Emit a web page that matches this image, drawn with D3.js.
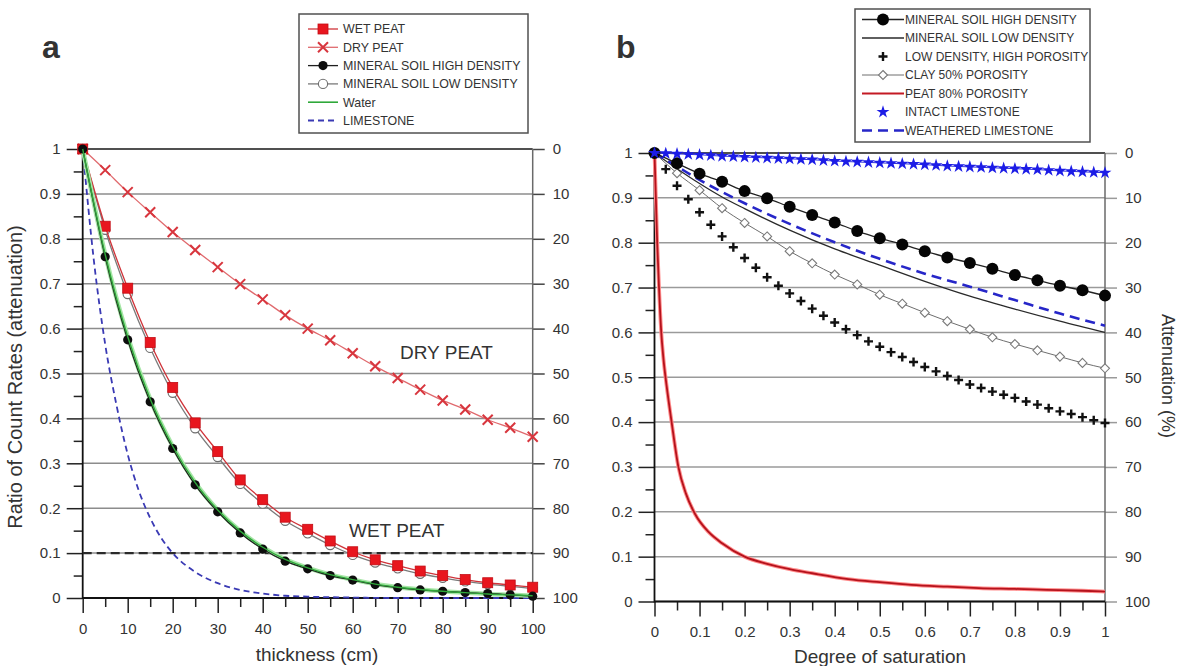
<!DOCTYPE html>
<html>
<head>
<meta charset="utf-8">
<script src="https://cdn.jsdelivr.net/npm/d3@7"></script>
<style>
  body { margin: 0; background: #fff; }
  svg { display: block; }
  text { font-family: "Liberation Sans", Arial, sans-serif; fill: #333; }
</style>
</head>
<body>
<svg id="chart" width="1182" height="666"></svg>
<script>
// ---------- Panel a: ratio of count rates vs thickness (cm) ----------
const thicknessCm  = [0,5,10,15,20,25,30,35,40,45,50,55,60,65,70,75,80,85,90,95,100];
const wetPeat      = [1,0.828,0.69,0.569,0.469,0.39,0.326,0.263,0.219,0.18,0.153,0.127,0.103,0.085,0.072,0.06,0.05,0.041,0.034,0.029,0.024];
const dryPeat      = [1,0.953,0.904,0.859,0.815,0.775,0.737,0.699,0.665,0.63,0.6,0.574,0.545,0.516,0.49,0.464,0.44,0.42,0.397,0.379,0.359];
const mineralHighA = [1,0.76,0.575,0.437,0.333,0.252,0.192,0.145,0.109,0.082,0.065,0.05,0.04,0.03,0.023,0.018,0.015,0.012,0.01,0.007,0.004];
const mineralLowA  = [1,0.82,0.677,0.557,0.457,0.378,0.314,0.254,0.21,0.172,0.144,0.118,0.096,0.079,0.066,0.054,0.045,0.037,0.031,0.026,0.021];
const waterA       = [1,0.765,0.582,0.443,0.338,0.257,0.196,0.149,0.113,0.086,0.067,0.052,0.041,0.031,0.024,0.019,0.015,0.012,0.009,0.007,0.005];
const limestoneCm  = [0,2.5,5,7.5,10,12.5,15,17.5,20,25,30,35,40,45,50,60,70,80,90,100];
const limestoneA   = [1,0.75,0.565,0.43,0.32,0.238,0.178,0.133,0.1,0.058,0.033,0.018,0.01,0.005,0.003,0.001,0,0,0,0];
const detectionLimit = 0.1;

// ---------- Panel b: ratio vs degree of saturation ----------
const satStep     = [0,0.05,0.1,0.15,0.2,0.25,0.3,0.35,0.4,0.45,0.5,0.55,0.6,0.65,0.7,0.75,0.8,0.85,0.9,0.95,1];
const mineralHighB = [1,0.977,0.954,0.936,0.915,0.899,0.88,0.862,0.845,0.826,0.81,0.796,0.781,0.767,0.755,0.742,0.728,0.716,0.704,0.694,0.682];
const clayB        = [1,0.955,0.917,0.877,0.844,0.814,0.781,0.754,0.729,0.707,0.684,0.664,0.644,0.625,0.607,0.589,0.574,0.56,0.546,0.532,0.52];
const satCoarse    = [0,0.05,0.1,0.15,0.2,0.3,0.4,0.5,0.6,0.7,0.8,0.9,1];
const mineralLowB  = [1,0.965,0.932,0.902,0.876,0.828,0.786,0.75,0.714,0.681,0.652,0.625,0.6];
const weatheredB   = [1,0.97,0.94,0.913,0.888,0.842,0.801,0.764,0.731,0.702,0.672,0.642,0.615];
const satFine = [0,0.025,0.05,0.075,0.1,0.125,0.15,0.175,0.2,0.225,0.25,0.275,0.3,0.325,0.35,0.375,0.4,0.425,0.45,0.475,
                 0.5,0.525,0.55,0.575,0.6,0.625,0.65,0.675,0.7,0.725,0.75,0.775,0.8,0.825,0.85,0.875,0.9,0.925,0.95,0.975,1];
const lowDensHighPor = [1,0.964,0.927,0.897,0.868,0.84,0.814,0.79,0.766,0.744,0.723,0.704,0.687,0.67,0.653,0.637,0.622,0.607,0.594,0.58,
                        0.568,0.556,0.545,0.534,0.523,0.513,0.503,0.494,0.484,0.476,0.468,0.461,0.454,0.446,0.439,0.431,0.424,0.418,0.411,0.404,0.398];
const intactLimestone = [1,0.999,0.998,0.997,0.996,0.9945,0.993,0.992,0.991,0.99,0.989,0.988,0.987,0.986,0.985,0.9835,0.982,0.981,0.98,0.979,
                         0.978,0.977,0.976,0.975,0.974,0.9725,0.971,0.97,0.969,0.968,0.967,0.966,0.965,0.964,0.963,0.9615,0.96,0.959,0.958,0.957,0.956];
const peatSat = [0,0.003,0.006,0.01,0.015,0.02,0.027,0.038,0.053,0.07,0.09,0.12,0.15,0.2,0.25,0.3,0.35,0.43,0.5,0.57,0.65,0.72,0.8,0.87,0.95,1];
const peat80  = [1,0.9,0.8,0.7,0.6,0.54,0.48,0.4,0.3,0.24,0.195,0.155,0.13,0.1,0.084,0.072,0.063,0.05,0.043,0.037,0.033,0.03,0.028,0.026,0.024,0.022];

// ---------- Tick values ----------
const ratioTicks = [0,0.1,0.2,0.3,0.4,0.5,0.6,0.7,0.8,0.9,1];
const ratioMinor = [0.05,0.15,0.25,0.35,0.45,0.55,0.65,0.75,0.85,0.95];
const attenTicks = [0,10,20,30,40,50,60,70,80,90,100];
const cmTicks    = [0,10,20,30,40,50,60,70,80,90,100];
const cmMinor    = [5,15,25,35,45,55,65,75,85,95];
const satTicks   = [0,0.1,0.2,0.3,0.4,0.5,0.6,0.7,0.8,0.9,1];
const satMinor   = [0.05,0.15,0.25,0.35,0.45,0.55,0.65,0.75,0.85,0.95];

const legendA = ["WET PEAT","DRY PEAT","MINERAL SOIL HIGH DENSITY","MINERAL SOIL LOW DENSITY","Water","LIMESTONE"];
const legendB = ["MINERAL SOIL HIGH DENSITY","MINERAL SOIL LOW DENSITY","LOW DENSITY, HIGH POROSITY","CLAY 50% POROSITY","PEAT 80% POROSITY","INTACT LIMESTONE","WEATHERED LIMESTONE"];

// ---------- Setup ----------
const svg = d3.select("#chart");
const fmt = d3.format("~g");

const xA = d3.scaleLinear().domain([0,100]).range([82.7,532.7]);
const yA = d3.scaleLinear().domain([0,1]).range([598,149]);
const yA2 = d3.scaleLinear().domain([0,100]).range([149,598]);
const xB = d3.scaleLinear().domain([0,1]).range([654.5,1105]);
const yB = d3.scaleLinear().domain([0,1]).range([601.5,153]);
const yB2 = d3.scaleLinear().domain([0,100]).range([153,601.5]);

// marker helpers
function mk(g, type, cx, cy) {
  switch (type) {
    case "square":
      g.append("rect").attr("x", cx-5).attr("y", cy-5).attr("width", 10).attr("height", 10)
        .attr("fill", "#e8161e").attr("stroke", "#c40d14").attr("stroke-width", 0.8);
      break;
    case "x":
      g.append("path").attr("d", `M${cx-5},${cy-5}L${cx+5},${cy+5}M${cx-5},${cy+5}L${cx+5},${cy-5}`)
        .attr("stroke", "#d8363e").attr("stroke-width", 2).attr("fill", "none");
      break;
    case "dotA":
      g.append("circle").attr("cx", cx).attr("cy", cy).attr("r", 4.6).attr("fill", "#0d0d0d");
      break;
    case "ringA":
      g.append("circle").attr("cx", cx).attr("cy", cy).attr("r", 4.6).attr("fill", "#fff")
        .attr("stroke", "#6e6e6e").attr("stroke-width", 1.1);
      break;
    case "dotB":
      g.append("circle").attr("cx", cx).attr("cy", cy).attr("r", 6).attr("fill", "#050505");
      break;
    case "diamond":
      g.append("path").attr("d", `M${cx},${cy-4.5}L${cx+4.5},${cy}L${cx},${cy+4.5}L${cx-4.5},${cy}Z`)
        .attr("fill", "#fff").attr("stroke", "#7a7a7a").attr("stroke-width", 1.1);
      break;
    case "plus":
      g.append("path").attr("d", `M${cx-4.5},${cy}L${cx+4.5},${cy}M${cx},${cy-4.5}L${cx},${cy+4.5}`)
        .attr("stroke", "#111").attr("stroke-width", 2.4).attr("fill", "none");
      break;
    case "star":
      g.append("path").attr("d", d3.symbol(d3.symbolStar, 52)())
        .attr("transform", `translate(${cx},${cy})`).attr("fill", "#1c1ce6");
      break;
  }
}

function drawLine(g, xs, ys, sx, sy, stroke, width, dash, curve) {
  const pts = xs.map((x, i) => [x, ys[i]]);
  const line = d3.line().x(d => sx(d[0])).y(d => sy(d[1])).curve(curve || d3.curveMonotoneX);
  const p = g.append("path").datum(pts).attr("d", line)
    .attr("fill", "none").attr("stroke", stroke).attr("stroke-width", width);
  if (dash) p.attr("stroke-dasharray", dash);
  return p;
}
function drawMarkers(g, xs, ys, sx, sy, type) {
  xs.forEach((x, i) => mk(g, type, sx(x), sy(ys[i])));
}

// axes + grid for one panel
function frame(x, y, y2, xTicks, xMinor, gridColor, rightTickColor) {
  const g = svg.append("g");
  const [x0, x1] = x.range();
  // horizontal grid
  g.selectAll("line.grid").data(ratioTicks).join("line")
    .attr("x1", x0).attr("x2", x1).attr("y1", d => y(d)).attr("y2", d => y(d))
    .attr("stroke", d => d === 1 ? "#505050" : gridColor)
    .attr("stroke-width", d => d === 1 ? 2 : 1.5);

  const style = (sel, color) => {
    sel.select(".domain").remove();
    sel.selectAll(".tick line").attr("stroke", color).attr("stroke-width", 1.5);
    sel.selectAll(".tick text").style("font-size", "15px").attr("fill", "#3a3a3a")
      .style("font-family", '"Liberation Sans", Arial, sans-serif');
  };

  // left axis
  const left = g.append("g").attr("transform", `translate(${x0},0)`)
    .call(d3.axisLeft(y).tickValues(ratioTicks).tickSize(16).tickPadding(6).tickFormat(fmt));
  style(left, "#222");
  const leftMinor = g.append("g").attr("transform", `translate(${x0},0)`)
    .call(d3.axisLeft(y).tickValues(ratioMinor).tickSize(9).tickFormat(""));
  style(leftMinor, "#222");

  // right axis (attenuation %)
  const right = g.append("g").attr("transform", `translate(${x1},0)`)
    .call(d3.axisRight(y2).tickValues(attenTicks).tickSize(12).tickPadding(8).tickFormat(fmt));
  style(right, rightTickColor);

  // bottom axis
  const yBase = y(0);
  const bottom = g.append("g").attr("transform", `translate(0,${yBase})`)
    .call(d3.axisBottom(x).tickValues(xTicks).tickSize(15).tickPadding(10).tickFormat(fmt));
  style(bottom, "#222");
  const bottomMinor = g.append("g").attr("transform", `translate(0,${yBase})`)
    .call(d3.axisBottom(x).tickValues(xMinor).tickSize(9).tickFormat(""));
  style(bottomMinor, "#222");

  // axis lines
  g.append("line").attr("x1", x1).attr("x2", x1).attr("y1", y(1)).attr("y2", y(0))
    .attr("stroke", "#6a6a6a").attr("stroke-width", 1.5);
  g.append("line").attr("x1", x0).attr("x2", x0).attr("y1", y(1) - 1).attr("y2", y(0) + 1)
    .attr("stroke", "#111").attr("stroke-width", 1.8);
  g.append("line").attr("x1", x0).attr("x2", x1).attr("y1", yBase).attr("y2", yBase)
    .attr("stroke", "#111").attr("stroke-width", 1.8);
  return g;
}

// ================= Panel a =================
frame(xA, yA, yA2, cmTicks, cmMinor, "#8c8c8c", "#444");
const pa = svg.append("g");

// detection threshold
pa.append("line").attr("x1", xA(0)).attr("x2", xA(100))
  .attr("y1", yA(detectionLimit)).attr("y2", yA(detectionLimit))
  .attr("stroke", "#2a2a2a").attr("stroke-width", 2.2).attr("stroke-dasharray", "9,5");

drawLine(pa, limestoneCm, limestoneA, xA, yA, "#3a3ab4", 1.8, "6,4");
drawLine(pa, thicknessCm, dryPeat, xA, yA, "#e06a6e", 1.3);
drawMarkers(pa, thicknessCm, dryPeat, xA, yA, "x");
drawLine(pa, thicknessCm, mineralLowA, xA, yA, "#7a7a7a", 1.3);
drawMarkers(pa, thicknessCm, mineralLowA, xA, yA, "ringA");
drawLine(pa, thicknessCm, wetPeat, xA, yA, "#d0343a", 1.3);
drawMarkers(pa, thicknessCm, wetPeat, xA, yA, "square");
drawLine(pa, thicknessCm, waterA, xA, yA, "#a6e6a6", 4.5);
drawLine(pa, thicknessCm, mineralHighA, xA, yA, "#1f1f1f", 1.3);
drawMarkers(pa, thicknessCm, mineralHighA, xA, yA, "dotA");
drawLine(pa, thicknessCm, waterA, xA, yA, "#2fa83a", 1.4);

pa.append("text").attr("x", 400).attr("y", 359).style("font-size", "19px").text("DRY PEAT");
pa.append("text").attr("x", 349).attr("y", 537).style("font-size", "19px").text("WET PEAT");

// ================= Panel b =================
frame(xB, yB, yB2, satTicks, satMinor, "#9a9a9a", "#9a9a9a");
const pb = svg.append("g");

drawLine(pb, peatSat, peat80, xB, yB, "#ff8c8c", 3.8);
drawLine(pb, peatSat, peat80, xB, yB, "#b5121c", 1.8);
drawLine(pb, satStep, clayB, xB, yB, "#6e6e6e", 1);
drawMarkers(pb, satStep, clayB, xB, yB, "diamond");
drawMarkers(pb, satFine, lowDensHighPor, xB, yB, "plus");
drawLine(pb, satCoarse, mineralLowB, xB, yB, "#2a2a2a", 1.3);
drawLine(pb, satCoarse, weatheredB, xB, yB, "#2626c8", 2.6, "10,6");
drawLine(pb, satStep, mineralHighB, xB, yB, "#222", 1.3);
drawMarkers(pb, satStep, mineralHighB, xB, yB, "dotB");
drawLine(pb, satFine, intactLimestone, xB, yB, "#3030e0", 1);
drawMarkers(pb, satFine, intactLimestone, xB, yB, "star");

// ================= Titles =================
const title = (x, y, txt, rot, size) => svg.append("text")
  .attr("transform", `translate(${x},${y}) rotate(${rot})`)
  .attr("text-anchor", "middle").style("font-size", size + "px").attr("fill", "#2a2a2a").text(txt);
title(22, 377, "Ratio of Count Rates (attenuation)", -90, 20);
title(317, 661, "thickness (cm)", 0, 19);
title(880, 663, "Degree of saturation", 0, 19);
title(1162, 376, "Attenuation (%)", 90, 18);

svg.append("text").attr("x", 42).attr("y", 58).style("font-size", "32px").style("font-weight", "bold")
  .attr("fill", "#111").text("a");
svg.append("text").attr("x", 616).attr("y", 58).style("font-size", "32px").style("font-weight", "bold")
  .attr("fill", "#111").text("b");

// ================= Legends =================
function legend(x, y, w, h, rowY0, step, symX1, symX2, textX, fontSize, items) {
  const g = svg.append("g");
  g.append("rect").attr("x", x).attr("y", y).attr("width", w).attr("height", h)
    .attr("fill", "#fff").attr("stroke", "#505050").attr("stroke-width", 1.5);
  items.forEach((it, i) => {
    const cy = rowY0 + i * step, cx = (symX1 + symX2) / 2;
    if (it.line) {
      const l = g.append("line").attr("x1", symX1).attr("x2", symX2).attr("y1", cy).attr("y2", cy)
        .attr("stroke", it.line).attr("stroke-width", it.w || 1.3);
      if (it.dash) l.attr("stroke-dasharray", it.dash);
    }
    if (it.mk) mk(g, it.mk, cx, cy);
    g.append("text").attr("x", textX).attr("y", cy + 4.4).style("font-size", fontSize + "px")
      .attr("fill", "#333").text(it.label);
  });
}

legend(299, 14, 229, 119, 29, 18.3, 308, 338, 343, 12.4, [
  { label: legendA[0], line: "#d0343a", mk: "square" },
  { label: legendA[1], line: "#e06a6e", mk: "x" },
  { label: legendA[2], line: "#1f1f1f", mk: "dotA" },
  { label: legendA[3], line: "#7a7a7a", mk: "ringA" },
  { label: legendA[4], line: "#2fa83a", w: 1.6 },
  { label: legendA[5], line: "#3a3ab4", w: 1.8, dash: "6,4" }
]);

legend(855, 9, 235, 133, 19.5, 18.5, 862, 904, 905, 12, [
  { label: legendB[0], line: "#222", mk: "dotB" },
  { label: legendB[1], line: "#2a2a2a" },
  { label: legendB[2], mk: "plus" },
  { label: legendB[3], line: "#6e6e6e", w: 1, mk: "diamond" },
  { label: legendB[4], line: "#c41a24", w: 2.2 },
  { label: legendB[5], mk: "star" },
  { label: legendB[6], line: "#2626c8", w: 2.6, dash: "10,6" }
]);
</script>
</body>
</html>
